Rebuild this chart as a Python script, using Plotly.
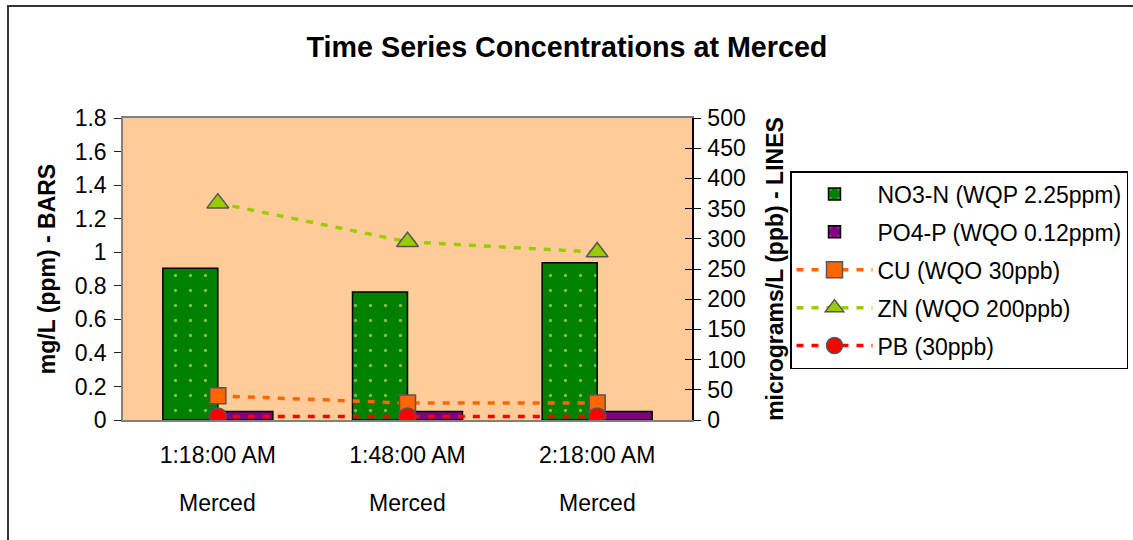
import plotly.graph_objects as go

times = ["1:18:00 AM", "1:48:00 AM", "2:18:00 AM"]
sites = ["Merced", "Merced", "Merced"]
no3_n = [0.904, 0.763, 0.937]
po4_p = [0.05, 0.05, 0.05]
cu = [40, 28, 28]
zn = [359, 295, 278]
pb = [6, 6, 6]

left_ticks = [0, 0.2, 0.4, 0.6, 0.8, 1, 1.2, 1.4, 1.6, 1.8]
left_labels = ["0", "0.2", "0.4", "0.6", "0.8", "1", "1.2", "1.4", "1.6", "1.8"]
right_ticks = list(range(0, 501, 50))

FONT = "Liberation Sans, Arial, sans-serif"
FS = 23

fig = go.Figure()

fig.add_trace(go.Bar(
    x=times, y=no3_n, name="NO3-N (WQP 2.25ppm)",
    marker=dict(color="#008000", line=dict(color="#000000", width=1.5),
                pattern=dict(shape=".", fgcolor="#FFFF66", bgcolor="#008000", size=15, solidity=0.04)),
    legendgroup="a", yaxis="y",
))
fig.add_trace(go.Bar(
    x=times, y=po4_p, name="PO4-P (WQO 0.12ppm)",
    marker=dict(color="#800080", line=dict(color="#000000", width=1.5),
                pattern=dict(shape=".", fgcolor="#B0A0FF", bgcolor="#800080", size=15, solidity=0.04)),
    legendgroup="b", yaxis="y",
))
fig.add_trace(go.Scatter(
    x=times, y=cu, name="CU (WQO 30ppb)", mode="lines+markers",
    line=dict(color="#FF6600", width=3.5, dash="7px,8px"),
    marker=dict(symbol="square", size=16, color="#FF6600", line=dict(color="#555555", width=1.5)),
    legendgroup="c", yaxis="y2",
))
fig.add_trace(go.Scatter(
    x=times, y=zn, name="ZN (WQO 200ppb)", mode="lines+markers",
    line=dict(color="#99CC00", width=3.5, dash="7px,8px"),
    marker=dict(symbol="triangle-up", size=19, color="#99CC00", line=dict(color="#555555", width=1.5)),
    legendgroup="d", yaxis="y2",
))
fig.add_trace(go.Scatter(
    x=times, y=pb, name="PB (30ppb)", mode="lines+markers",
    line=dict(color="#FF0000", width=3.5, dash="7px,8px"),
    marker=dict(symbol="circle", size=17, color="#FF0000", line=dict(color="#555555", width=1.5)),
    legendgroup="e", yaxis="y2",
))
# invisible trace to activate yaxis3 (inside half of crossing ticks)
fig.add_trace(go.Scatter(x=times, y=[None, None, None], yaxis="y3", showlegend=False,
                         hoverinfo="skip", mode="lines"))

# plot area px: x 123..692, y 118..420
L, R, T, B = 123, 692, 118, 420
W, H = 1133, 540
def px(x):
    return (x - L) / (R - L)
def py(y):
    return (B - y) / (B - T)

annotations = [dict(x=t, y=py(503), xref="x", yref="paper", text=s, showarrow=False,
                    xanchor="center", yanchor="middle", font=dict(family=FONT, size=FS, color="#000000"))
               for t, s in zip(times, sites)]

fig.update_layout(
    width=W, height=H,
    margin=dict(l=L, r=W - R, t=T, b=H - B, pad=0, autoexpand=False),
    paper_bgcolor="white",
    plot_bgcolor="#FFCC99",
    font=dict(family=FONT, size=FS, color="#000000"),
    barmode="group", bargap=0.42, bargroupgap=0,
    title=dict(text="<b>Time Series Concentrations at Merced</b>", x=px(567), xref="paper",
               xanchor="center", y=1 - 47 / H, yanchor="middle",
               font=dict(family=FONT, size=28.7, color="#000000")),
    xaxis=dict(type="category", showline=True, linecolor="#808080", linewidth=1.5,
               mirror=True, ticks="", showgrid=False, ticklabelstandoff=14,
               tickfont=dict(family=FONT, size=FS), range=[-0.5, 2.5]),
    yaxis=dict(range=[0, 1.8], tickvals=left_ticks, ticktext=left_labels,
               ticks="outside", ticklen=7, tickcolor="#222222", showgrid=False,
               showline=True, linecolor="#808080", linewidth=1.5, zeroline=False,
               tickfont=dict(family=FONT, size=FS), ticklabelstandoff=3,
               title=dict(text="<b>mg/L (ppm) - BARS</b>", font=dict(family=FONT, size=FS), standoff=13)),
    yaxis2=dict(range=[0, 500], tickvals=right_ticks, overlaying="y", side="right",
                ticks="outside", ticklen=7, tickcolor="#000000", showgrid=False,
                showline=True, linecolor="#000000", linewidth=1.5, zeroline=False,
                tickfont=dict(family=FONT, size=FS), ticklabelstandoff=2,
                title=dict(text="<b>micrograms/L (ppb) - LINES</b>", font=dict(family=FONT, size=FS), standoff=22)),
    yaxis3=dict(range=[0, 500], tickvals=right_ticks, overlaying="y", side="right",
                ticks="inside", ticklen=7, tickcolor="#000000", showgrid=False,
                showticklabels=False, showline=False, zeroline=False),
    legend=dict(x=px(790), y=py(171), xanchor="left", yanchor="top",
                bgcolor="white", bordercolor="#000000", borderwidth=1.5,
                font=dict(family=FONT, size=FS), traceorder="grouped",
                tracegroupgap=5, itemwidth=76),
    annotations=annotations,
    shapes=[dict(type="rect", xref="paper", yref="paper",
                 x0=px(8), x1=px(1140), y0=py(560), y1=py(6),
                 line=dict(color="#333333", width=2), fillcolor="rgba(0,0,0,0)", layer="below")],
)

fig.write_html("out.html", config={"displayModeBar": False},
               post_script="document.body.style.margin='0px';document.body.style.overflow='hidden';")
